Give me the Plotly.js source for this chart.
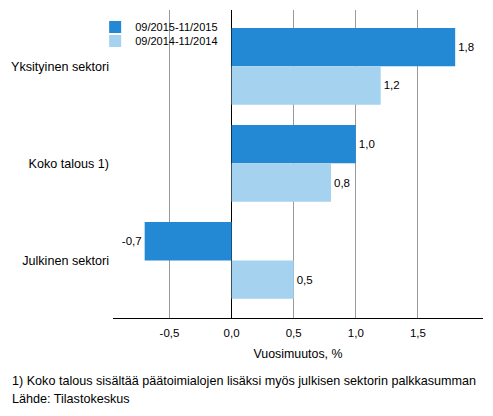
<!DOCTYPE html>
<html>
<head>
<meta charset="utf-8">
<script src="https://cdn.plot.ly/plotly-3.0.1.min.js"></script>
<style>
  html, body { margin: 0; padding: 0; background: #fff; }
  #chart { width: 493px; height: 416px; }
</style>
</head>
<body>
<div id="chart"></div>
<script>
// sectors, top to bottom
var sectors = ["Yksityinen sektori", "Koko talous 1)", "Julkinen sektori"];
var period2015 = "09/2015-11/2015";
var period2014 = "09/2014-11/2014";
var change2015 = [1.8, 1.0, -0.7];
var change2014 = [1.2, 0.8, 0.5];
var xTicks = [-0.5, 0, 0.5, 1, 1.5];
var xTickText = ["-0,5", "0,0", "0,5", "1,0", "1,5"];

var fontFam = "Liberation Sans, Arial, sans-serif";

var data = [
  {
    type: "bar",
    orientation: "h",
    name: period2015,
    y: sectors,
    x: change2015,
    legend: "legend",
    marker: { color: "#2389d4", line: { width: 0 } },
    texttemplate: "%{x:.1f}",
    textposition: "outside",
    cliponaxis: false,
    textfont: { size: 11.5, color: "#000" },
    hoverinfo: "skip"
  },
  {
    type: "bar",
    orientation: "h",
    name: period2014,
    y: sectors,
    x: change2014,
    legend: "legend2",
    marker: { color: "#a4d2ef", line: { width: 0 } },
    texttemplate: "%{x:.1f}",
    textposition: "outside",
    cliponaxis: false,
    textfont: { size: 11.5, color: "#000" },
    hoverinfo: "skip"
  }
];

// one legend per item so the rows can sit tight like the original
var legendBase = {
  xref: "container", yref: "container",
  x: 0.193,
  xanchor: "left", yanchor: "top",
  bgcolor: "rgba(0,0,0,0)",
  font: { size: 11 },
  itemwidth: 30
};

var layout = {
  width: 493,
  height: 416,
  margin: { l: 113, r: 10, t: 10, b: 98, autoexpand: false },
  paper_bgcolor: "#fff",
  plot_bgcolor: "#fff",
  font: { family: fontFam, size: 11, color: "#000" },
  separators: ", ",
  barmode: "group",
  bargap: 0.21,
  bargroupgap: 0,
  showlegend: true,
  legend: Object.assign({}, legendBase, { y: 0.970 }),
  legend2: Object.assign({}, legendBase, { y: 0.9365 }),
  xaxis: {
    range: [-0.955, 2.024],
    tickvals: xTicks,
    ticktext: xTickText,
    showgrid: true,
    gridcolor: "#9a9a9a",
    gridwidth: 1,
    zeroline: true,
    zerolinecolor: "#000",
    zerolinewidth: 1,
    showline: true,
    linecolor: "#000",
    linewidth: 1,
    ticks: "",
    ticklabelstandoff: 4,
    tickfont: { size: 11.5 },
    title: { text: "Vuosimuutos, %", font: { size: 12.4 }, standoff: 11 },
    automargin: false,
    fixedrange: true
  },
  yaxis: {
    type: "category",
    range: [2.593, -0.58],
    showgrid: false,
    zeroline: false,
    showline: false,
    ticks: "",
    ticklabelstandoff: 3,
    tickfont: { size: 12.6 },
    automargin: false,
    fixedrange: true
  },
  annotations: [
    {
      xref: "paper", yref: "paper",
      x: -0.278, y: -0.2045,
      xanchor: "left", yanchor: "middle",
      showarrow: false,
      text: "1) Koko talous sisältää päätoimialojen lisäksi myös julkisen sektorin palkkasumman",
      font: { size: 12.6 }
    },
    {
      xref: "paper", yref: "paper",
      x: -0.278, y: -0.263,
      xanchor: "left", yanchor: "middle",
      showarrow: false,
      text: "Lähde: Tilastokeskus",
      font: { size: 12.6 }
    }
  ]
};

Plotly.newPlot("chart", data, layout, { displayModeBar: false, staticPlot: true });
</script>
</body>
</html>
